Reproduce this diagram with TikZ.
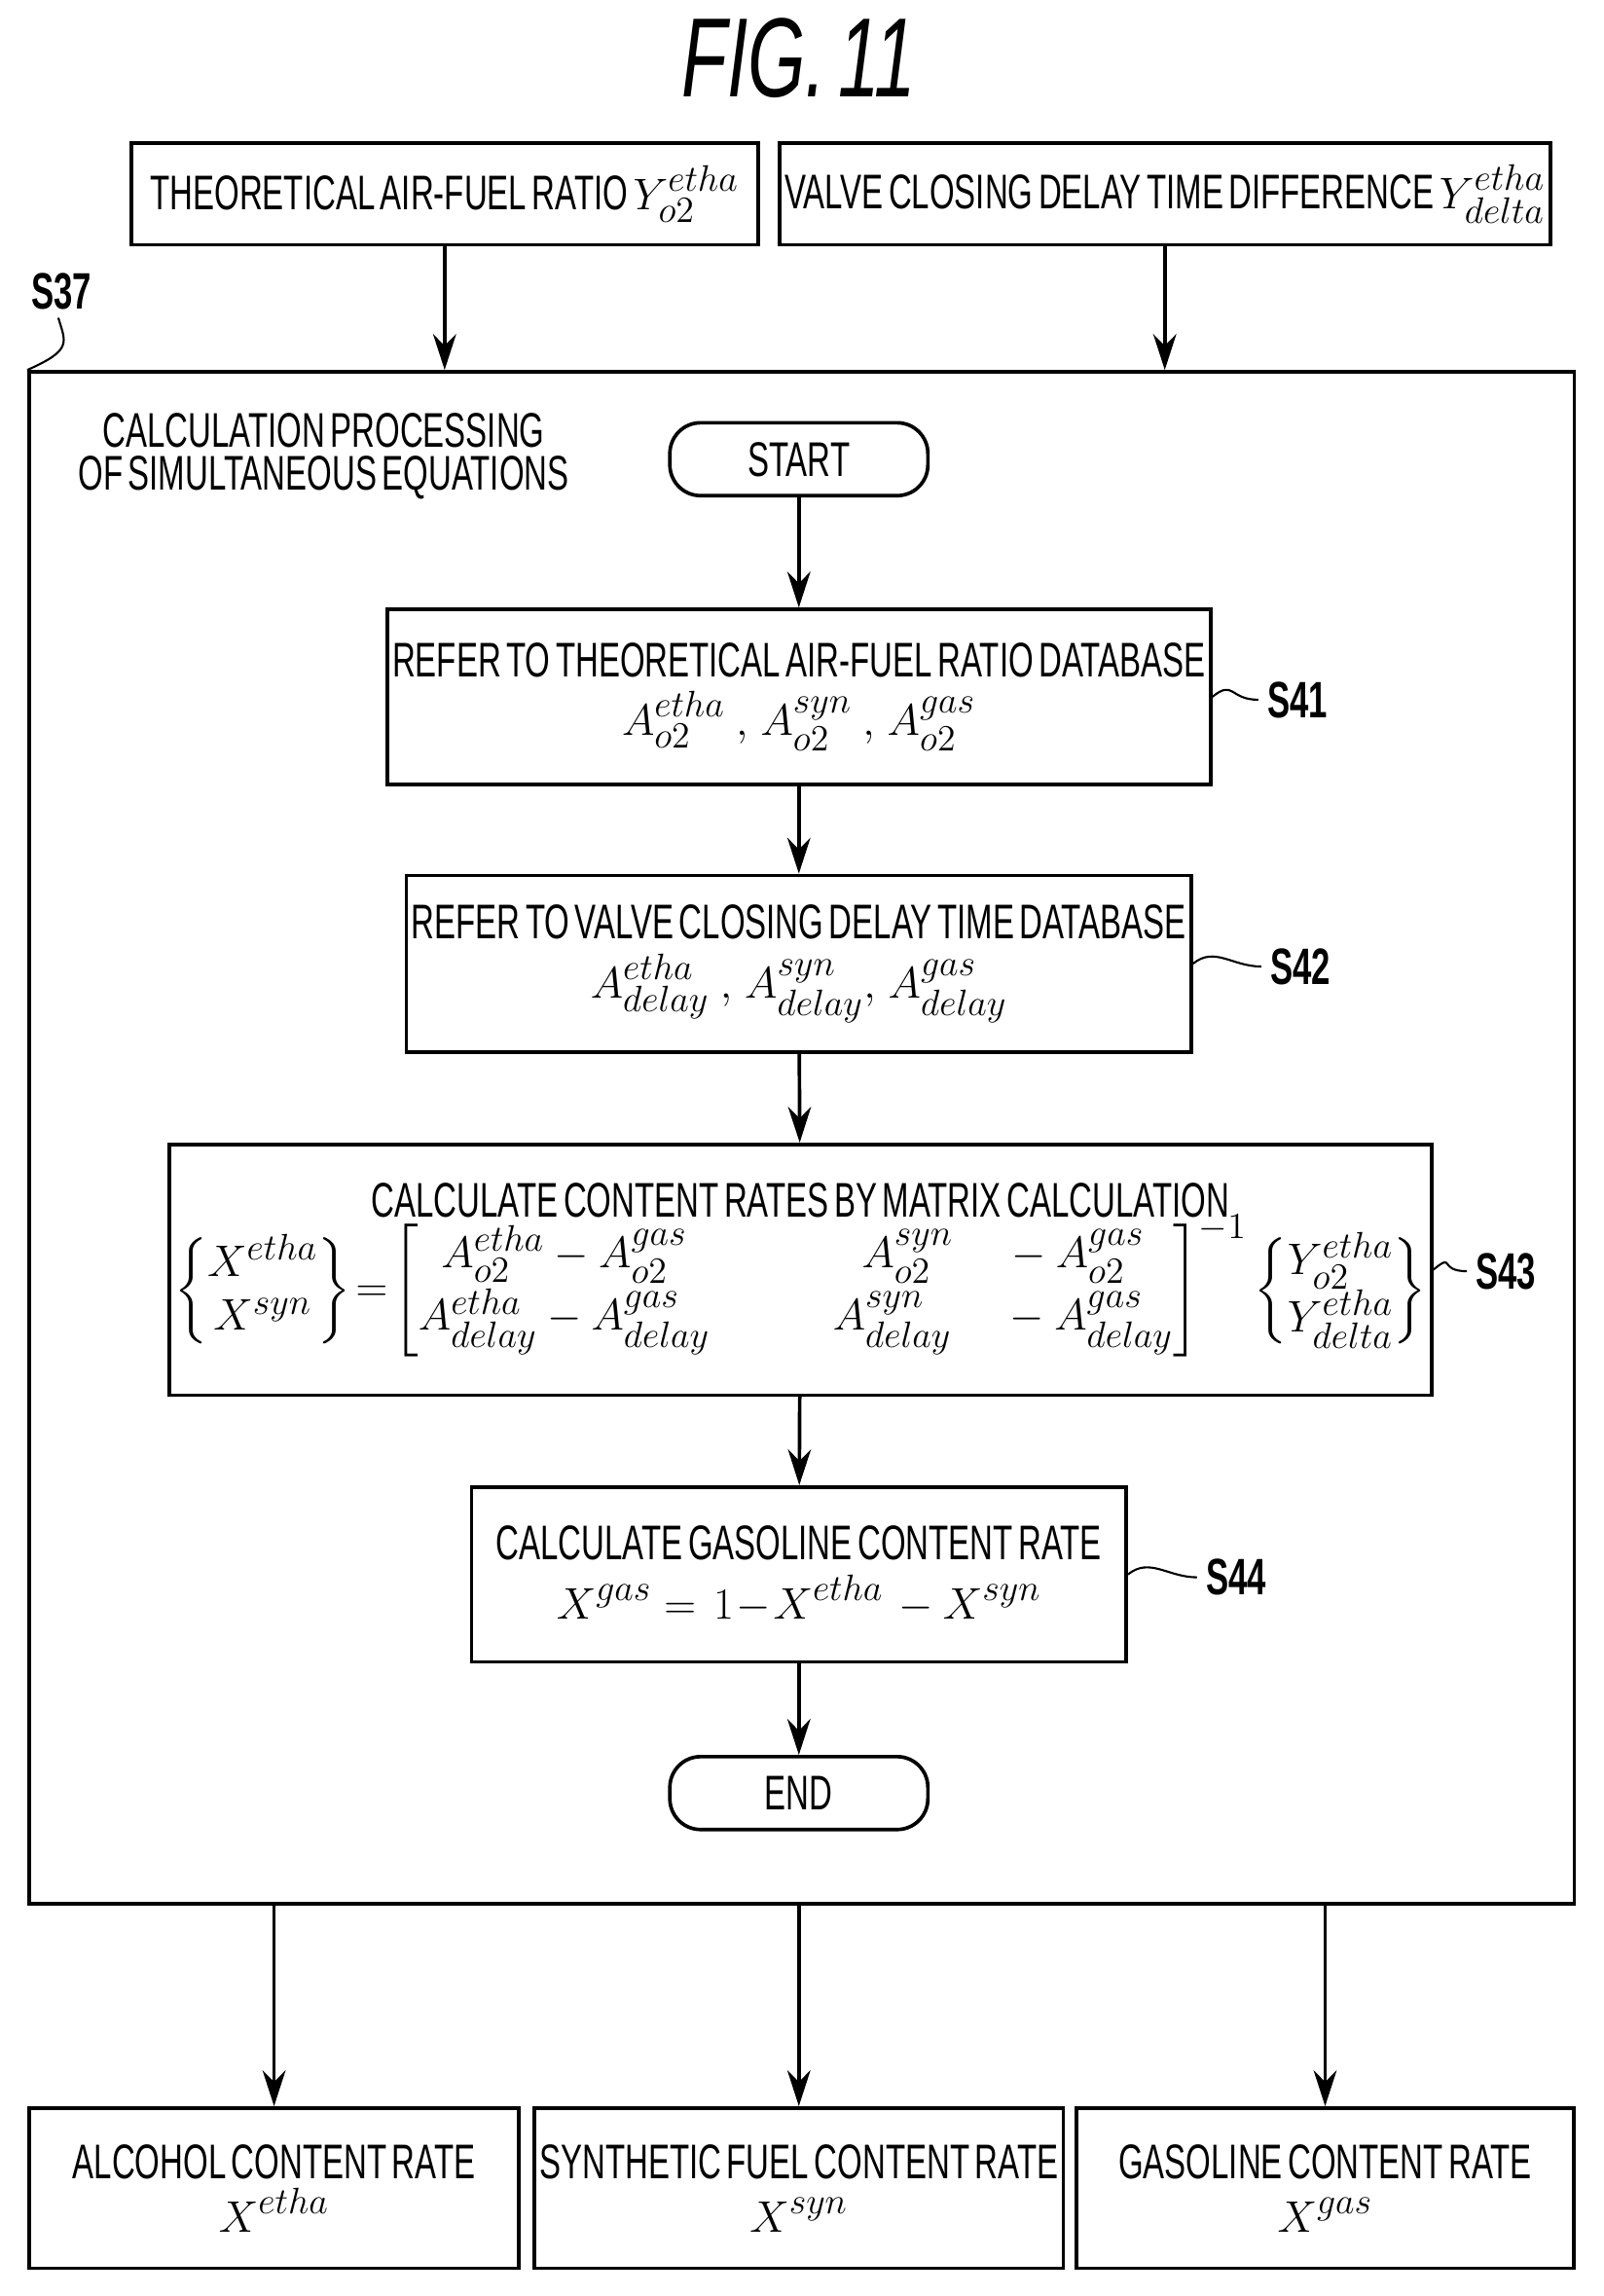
\documentclass[tikz,border=0pt]{standalone}
\usepackage{amsmath}
\usepackage{fontspec}
\setmainfont{Liberation Sans}[FakeStretch=0.66,WordSpace=0.6]
\usetikzlibrary{arrows.meta,positioning}
\tikzset{
  box/.style={draw,line width=1.4pt,inner sep=2pt,align=center,font=\fontsize{19}{21}\selectfont},
  term/.style={box,rounded corners=12pt},
  flow/.style={-{Stealth[length=14pt,width=9pt]},line width=1.4pt},
  steplabel/.style={font=\bfseries\fontsize{20}{22}\selectfont},
}
\newcommand{\mth}[1]{$\displaystyle #1$}
\begin{document}
\begin{tikzpicture}[x=0.02cm,y=-0.02cm]
\useasboundingbox (0,0) rectangle (1100,1575);
\node[font=\itshape\fontsize{44}{48}\selectfont] (title) at (548,40) {FIG. 11};
% inputs
\node[box,minimum width=430*0.02cm,minimum height=70*0.02cm] (ratio) at (305,133) {THEORETICAL AIR-FUEL RATIO \mth{Y^{etha}_{o2}}};
\node[box,minimum width=516*0.02cm,minimum height=70*0.02cm] (delay) at (799,133) {VALVE CLOSING DELAY TIME DIFFERENCE \mth{Y^{etha}_{delta}}};
% outer block
\node[draw,line width=1.4pt,minimum width=1060*0.02cm,minimum height=1051*0.02cm] (calc) at (550,780.5) {};
\node[font=\fontsize{19}{17}\selectfont,align=center] (calctxt) at (222,313) {CALCULATION PROCESSING\\OF SIMULTANEOUS EQUATIONS};
\node[steplabel] (s37) at (42,200) {S37};
\draw[line width=0.8pt] (40,218) .. controls (45,235) and (50,240) .. (calc.north west);
% flow
\node[term,minimum width=177*0.02cm,minimum height=50*0.02cm] (start) at (548,315) {START};
\node[box,minimum width=537*0.02cm,minimum height=120*0.02cm] (s41box) at (548,478) {REFER TO THEORETICAL AIR-FUEL RATIO DATABASE\\[2pt]\mth{A^{etha}_{o2}\ \ ,\ A^{syn}_{o2}\ \ ,\ A^{gas}_{o2}}};
\node[box,minimum width=537*0.02cm,minimum height=121*0.02cm] (s42box) at (548,661) {REFER TO VALVE CLOSING DELAY TIME DATABASE\\[2pt]\mth{A^{etha}_{delay}\ \ ,\ A^{syn}_{delay},\ A^{gas}_{delay}}};
\node[box,minimum width=817*0.02cm,minimum height=172*0.02cm] (s43box) at (549,871) {CALCULATE CONTENT RATES BY MATRIX CALCULATION\\[-2pt]
\mth{\begin{Bmatrix}X^{etha}\\X^{syn}\end{Bmatrix}\!=\!\begin{bmatrix}A^{etha}_{o2}-A^{gas}_{o2}&\qquad A^{syn}_{o2}\quad-A^{gas}_{o2}\\[2pt] A^{etha}_{delay}-A^{gas}_{delay}&\qquad A^{syn}_{delay}\quad-A^{gas}_{delay}\end{bmatrix}^{-1}\begin{Bmatrix}Y^{etha}_{o2}\\Y^{etha}_{delta}\end{Bmatrix}}};
\node[box,minimum width=449*0.02cm,minimum height=120*0.02cm] (s44box) at (548,1080) {CALCULATE GASOLINE CONTENT RATE\\[2pt]\mth{X^{gas}=\ 1\!-\!X^{etha}\ -X^{syn}}};
\node[term,minimum width=177*0.02cm,minimum height=50*0.02cm] (end) at (548,1230) {END};
% step labels
\node[steplabel] (s41) at (890,480) {S41};
\node[steplabel] (s42) at (892,663) {S42};
\node[steplabel] (s43) at (1033,872) {S43};
\node[steplabel] (s44) at (848,1082) {S44};
\foreach \b/\s in {s41box/s41,s42box/s42,s43box/s43,s44box/s44}
  \draw[line width=0.8pt] (\b.east) .. controls +(15,-12) and +(-20,0) .. (\s.west);
% outputs
\node[box,minimum width=336*0.02cm,minimum height=110*0.02cm] (alc) at (188,1501) {ALCOHOL CONTENT RATE\\\mth{X^{etha}}};
\node[box,minimum width=336*0.02cm,minimum height=110*0.02cm] (syn) at (548,1501) {SYNTHETIC FUEL CONTENT RATE\\\mth{X^{syn}}};
\node[box,minimum width=341*0.02cm,minimum height=110*0.02cm] (gas) at (909,1501) {GASOLINE CONTENT RATE\\\mth{X^{gas}}};
% connectors
\draw[flow] (ratio) -- (ratio|-calc.north);
\draw[flow] (delay) -- (delay|-calc.north);
\draw[flow] (start) -- (s41box);
\draw[flow] (s41box) -- (s42box);
\draw[flow] (s42box) -- (s43box);
\draw[flow] (s43box) -- (s44box);
\draw[flow] (s44box) -- (end);
\draw[flow] (alc|-calc.south) -- (alc);
\draw[flow] (syn|-calc.south) -- (syn);
\draw[flow] (gas|-calc.south) -- (gas);
\end{tikzpicture}
\end{document}
